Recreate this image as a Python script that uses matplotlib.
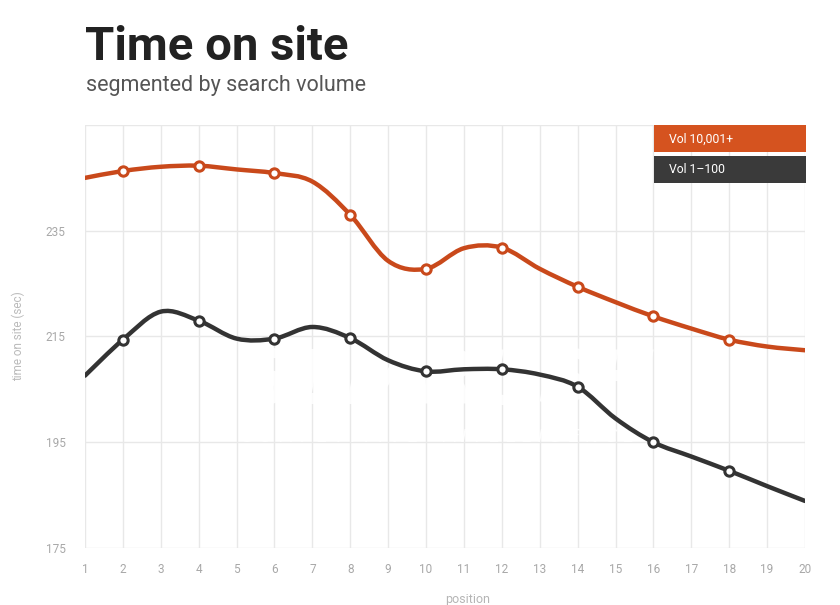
import matplotlib
matplotlib.use("Agg")
import matplotlib.pyplot as plt
from matplotlib.path import Path
from matplotlib.patches import PathPatch, Rectangle

plt.rcParams['font.family'] = ['Roboto', 'DejaVu Sans']

# data
positions = list(range(1, 21))
vol_high = [245.0, 246.3, 247.1, 247.3, 246.6, 245.9, 244.3, 238.0, 229.3, 227.8,
            231.7, 231.8, 227.8, 224.4, 221.5, 218.8, 216.5, 214.4, 213.1, 212.4]
vol_low = [207.6, 214.4, 219.7, 218.0, 214.6, 214.6, 216.8, 214.7, 210.5, 208.4,
           208.8, 208.8, 207.8, 205.5, 199.5, 195.0, 192.3, 189.6, 186.7, 183.9]
marker_positions = [2, 4, 6, 8, 10, 12, 14, 16, 18]
series_names = ['Vol 10,001+', 'Vol 1\u2013100']
y_ticks = [175, 195, 215, 235, 255]

orange = '#c9491b'
orange_box = '#d5531f'
dark = '#333333'
dark_box = '#3a3a3a'


# smooth catmull-rom curve through the points, as bezier segments
def spline_path(xs, ys):
    n = len(xs)
    verts = [(xs[0], ys[0])]
    codes = [Path.MOVETO]
    for i in range(1, n):
        x0, y0 = xs[max(i - 2, 0)], ys[max(i - 2, 0)]
        x1, y1 = xs[i - 1], ys[i - 1]
        x2, y2 = xs[i], ys[i]
        x3, y3 = xs[min(i + 1, n - 1)], ys[min(i + 1, n - 1)]
        c1 = (x1 + (x2 - x0) / 6, y1 + (y2 - y0) / 6)
        c2 = (x2 - (x3 - x1) / 6, y2 - (y3 - y1) / 6)
        verts += [c1, c2, (x2, y2)]
        codes += [Path.CURVE4] * 3
    return Path(verts, codes)


fig = plt.figure(figsize=(8.4, 6.05), dpi=100)
ax = fig.add_axes([85 / 840, 1 - 548 / 605, 720 / 840, 423 / 605])

ax.set_xlim(1, 20)
ax.set_ylim(175, 255)
ax.set_xticks(positions)
ax.set_yticks(y_ticks)
ax.set_yticklabels(['175', '195', '215', '235', ''])
ax.grid(True, color='#e8e8e8', lw=1)
for s in ax.spines.values():
    s.set_visible(False)
ax.tick_params(length=0, colors='#a8a8a8', labelsize=8.5)
ax.tick_params(axis='x', pad=11)
ax.tick_params(axis='y', pad=14)
for lab in ax.get_xticklabels() + ax.get_yticklabels():
    lab.set_family(['Liberation Sans Narrow', 'Roboto'])

# faint watermark over the grid
ax.text(0.505, 0.39, 'SEMRUSH', transform=ax.transAxes, ha='center', va='center',
        fontsize=54, fontweight='bold', style='italic', color='white', alpha=0.85,
        zorder=2, family='DejaVu Sans')
ax.text(0.49, 0.262, 'C O M P E T I T I V E    I N T E L L I G E N C E',
        transform=ax.transAxes, ha='center', va='center', fontsize=13,
        style='italic', color='white', alpha=0.85, zorder=2, family='DejaVu Sans')

for vals, col in [(vol_high, orange), (vol_low, dark)]:
    path = spline_path(positions, vals)
    ax.add_patch(PathPatch(path, fill=False, edgecolor=col, lw=3.2,
                           capstyle='round', joinstyle='round', zorder=3))
    mx = [p for p in positions if p in marker_positions]
    my = [vals[positions.index(p)] for p in mx]
    ax.scatter(mx, my, s=45, facecolor='white', edgecolor=col, linewidth=2.2, zorder=4)

ax.set_ylabel('time on site (sec)', color='#bbbbbb', fontsize=8.5)
ax.yaxis.set_label_coords(-0.083, 0.5)
fig.text(468 / 840, 1 - 600 / 605, 'position', ha='center', va='center',
         color='#b5b5b5', fontsize=9, family=['Liberation Sans Narrow', 'Roboto'])

# legend boxes
for i, (name, col) in enumerate(zip(series_names, [orange_box, dark_box])):
    top = 125 + i * 31
    fig.patches.append(Rectangle((654 / 840, 1 - (top + 27) / 605), 152 / 840, 27 / 605,
                                 transform=fig.transFigure, facecolor=col,
                                 edgecolor='none', zorder=5))
    fig.text(669 / 840, 1 - (top + 14) / 605, name, color='white', fontsize=8.8,
             va='center', ha='left', zorder=6)

fig.text(85 / 840, 1 - 60 / 605, 'Time on site', fontsize=34, fontweight='bold',
         color='#222222', va='baseline')
fig.text(86 / 840, 1 - 91 / 605, 'segmented by search volume', fontsize=15.5,
         color='#555555', va='baseline')

fig.savefig('out.png', dpi=100)
